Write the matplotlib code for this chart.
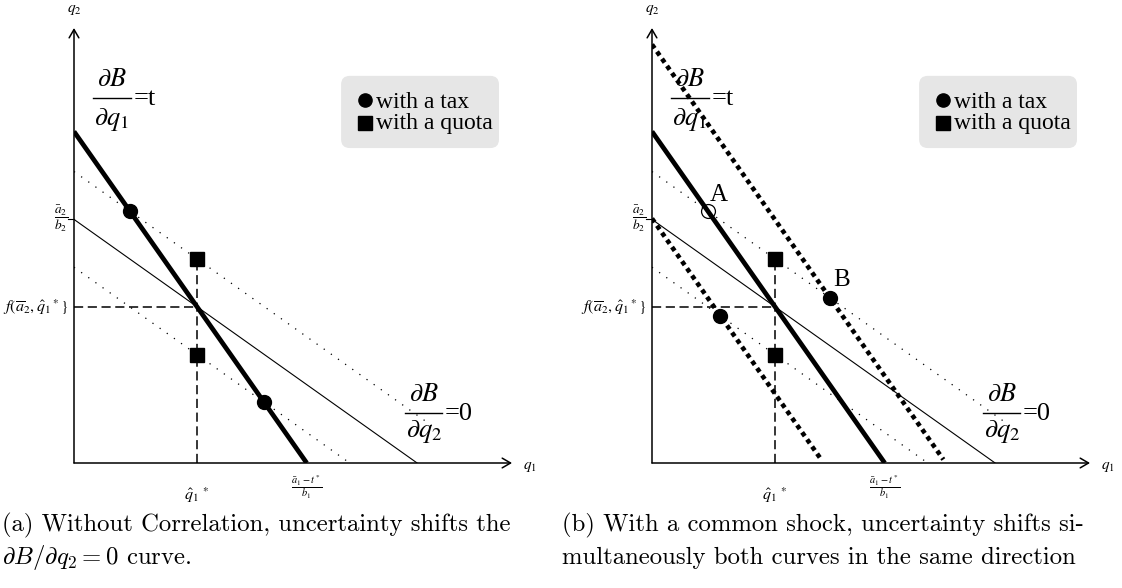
import matplotlib.pyplot as plt
import numpy as np
from matplotlib.patches import FancyBboxPatch

plt.rcParams['font.family'] = ['Liberation Serif', 'DejaVu Serif']
plt.rcParams['mathtext.fontset'] = 'stix'

# model values (chart units, q1 / q2)
q1_axis_end = 10.07
q2_axis_end = 10.0
a2_over_b2 = 5.60          # intercept of dB/dq2 = 0
slope_q2 = 0.71            # |slope| of dB/dq2 = 0
tax_intercept = 7.62       # q2 intercept of dB/dq1 = t
tax_q1_intercept = 5.35    # (a1 - t*)/b1
shocks = [1.10, -1.10]     # shift of dB/dq2 = 0 (dotted)
upper_dotted_end = 8.37
common_shocks = [2.0, -2.0]  # shift of dB/dq1 = t in panel (b)

captions = [
    ["(a) Without Correlation, uncertainty shifts the",
     r"$\partial B/\partial q_2 = 0$ curve."],
    ["(b) With a common shock, uncertainty shifts si-",
     "multaneously both curves in the same direction"],
]

slope_tax = tax_intercept / tax_q1_intercept
q1_star = (tax_intercept - a2_over_b2) / (slope_tax - slope_q2)
q2_star = a2_over_b2 - slope_q2 * q1_star

W, H = 1122, 588
px = 43.5  # pixels per unit
fig = plt.figure(figsize=(W / 100, H / 100), dpi=100)


def frac_label(ax, x, y, num, den, rhs, den_off):
    # big "dB/dq = c" label: numerator, bar, denominator, right-hand side
    ax.text(x + 0.43, y + 0.27, num, fontsize=19, ha='center', va='baseline')
    ax.plot([x, x + 0.86], [y, y], color='black', lw=1.0, clip_on=False)
    ax.text(x + 0.43, y + den_off, den, fontsize=19, ha='center', va='baseline')
    ax.text(x + 0.92, y - 0.17, rhs, fontsize=19, ha='left', va='baseline')


def draw_panel(ax, common):
    ax.set_xlim(0, 10.8)
    ax.set_ylim(0, 10.6)
    ax.axis('off')

    # axes with arrows
    arr = dict(arrowstyle='->,head_length=0.6,head_width=0.35', lw=1.1, color='black',
               shrinkA=0, shrinkB=0)
    ax.annotate('', xy=(q1_axis_end, 0), xytext=(0, 0), arrowprops=arr)
    ax.annotate('', xy=(0, q2_axis_end), xytext=(0, 0), arrowprops=arr)
    ax.text(10.48, -0.09, '$q_1$', fontsize=11, ha='center', va='center')
    ax.text(0, 10.41, '$q_2$', fontsize=11, ha='center', va='center')

    # dB/dq2 = 0
    x_end = a2_over_b2 / slope_q2
    ax.plot([0, x_end], [a2_over_b2, 0], color='black', lw=0.8)
    ax.plot([-0.14, 0], [a2_over_b2, a2_over_b2], color='black', lw=0.8, clip_on=False)

    # shifted dB/dq2 = 0 (dotted)
    for s in shocks:
        c = a2_over_b2 + s
        xe = min(c / slope_q2, upper_dotted_end)
        ax.plot([0, xe], [c, c - slope_q2 * xe], color='black', lw=0.9, ls=(0, (1, 6)))

    # dB/dq1 = t
    ax.plot([0, tax_q1_intercept], [tax_intercept, 0], color='black', lw=3.4,
            solid_capstyle='butt')

    # dashed guides
    upper_q = a2_over_b2 + shocks[0] - slope_q2 * q1_star
    ax.plot([q1_star, q1_star], [0, upper_q], color='black', lw=1.1, ls=(0, (6, 3)))
    ax.plot([0, q1_star], [q2_star, q2_star], color='black', lw=1.1, ls=(0, (6, 3)))

    # quota points
    for s in shocks:
        ax.plot(q1_star, a2_over_b2 + s - slope_q2 * q1_star, 's', color='black',
                ms=10.5, zorder=5)

    # tax points
    tax_pts = []
    for s in shocks:
        c = a2_over_b2 + s
        x = (tax_intercept - c) / (slope_tax - slope_q2)
        tax_pts.append((x, c - slope_q2 * x))

    if not common:
        for x, y in tax_pts:
            ax.plot(x, y, 'o', color='black', ms=10, zorder=5)
    else:
        xa, ya = tax_pts[0]
        ax.plot(xa, ya, 'o', mfc='none', mec='black', mew=0.9, ms=10, zorder=5)
        ax.text(xa + 0.25, ya + 0.38, 'A', fontsize=18, ha='center', va='center')
        for k, (cs, s) in enumerate(zip(common_shocks, shocks)):
            ci = tax_intercept + cs
            xe = (ci - 0.08) / slope_tax
            ax.plot([0, xe], [ci, ci - slope_tax * xe], color='black', lw=3.3,
                    ls=(0, (1, 0.9)))
            c = a2_over_b2 + s
            x = (ci - c) / (slope_tax - slope_q2)
            y = c - slope_q2 * x
            ax.plot(x, y, 'o', color='black', ms=10, zorder=5)
            if k == 0:
                ax.text(x + 0.26, y + 0.41, 'B', fontsize=18, ha='center', va='center')

    # curve labels
    frac_label(ax, 0.44, 8.39, r'$\partial B$', r'$\partial q_1$', '=t', -0.62)
    frac_label(ax, 7.61, 1.15, r'$\partial B$', r'$\partial q_2$', '=0', -0.55)

    # axis value labels
    ax.text(-0.14, a2_over_b2, r'$\dfrac{\bar{a}_2}{b_2}$', fontsize=9.5,
            ha='right', va='center')
    ax.text(-0.14, q2_star, r'$f(\overline{a}_2,\hat{q}_1{}^*\}$', fontsize=11.5,
            ha='right', va='center')
    ax.text(q1_star, -0.74, r'$\hat{q}_1\,{}^*$', fontsize=11.5, ha='center', va='center')
    ax.text(tax_q1_intercept, -0.55, r'$\dfrac{\bar{a}_1-t^*}{b_1}$', fontsize=7.5,
            ha='center', va='center')

    # legend box
    box = FancyBboxPatch((6.29, 7.39), 3.33, 1.36,
                         boxstyle='round,pad=0.15,rounding_size=0.2',
                         facecolor='#e6e6e6', edgecolor='none', zorder=1)
    ax.add_patch(box)
    ax.plot(6.69, 8.35, 'o', color='black', ms=9.5, zorder=3)
    ax.plot(6.69, 7.82, 's', color='black', ms=10, zorder=3)
    ax.text(6.95, 8.16, 'with a tax', fontsize=17, ha='left', va='baseline', zorder=3)
    ax.text(6.95, 7.68, 'with a quota', fontsize=17, ha='left', va='baseline', zorder=3)


for i, left_px in enumerate([74, 652]):
    ax = fig.add_axes([left_px / W, (H - 463) / H, 10.8 * px / W, 10.6 * px / H])
    draw_panel(ax, common=(i == 1))

cap_x = [2, 562]
for i in range(2):
    fig.text(cap_x[i] / W, 1 - 525 / H, captions[i][0], family='cmr10',
             math_fontfamily='cm', fontsize=17.8, ha='left', va='center')
    fig.text(cap_x[i] / W, 1 - 558 / H, captions[i][1], family='cmr10',
             math_fontfamily='cm', fontsize=17.8, ha='left', va='center')

fig.savefig('out.png', dpi=100)
